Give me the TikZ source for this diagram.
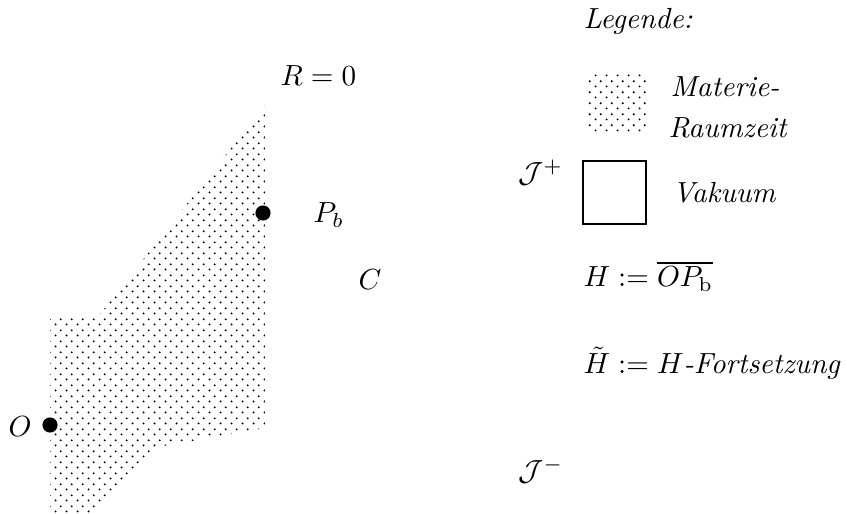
\documentclass[tikz,border=0pt]{standalone}
\usetikzlibrary{patterns}
\pgfdeclarepatternformonly{mydots}{\pgfqpoint{0pt}{0pt}}{\pgfqpoint{3.64pt}{3.64pt}}{\pgfqpoint{3.64pt}{3.64pt}}{%
  \pgfpathcircle{\pgfqpoint{0.91pt}{0.91pt}}{.38pt}%
  \pgfpathcircle{\pgfqpoint{2.73pt}{2.73pt}}{.38pt}%
  \pgfusepath{fill}}
\begin{document}
\begin{tikzpicture}[x=0.34364pt,y=-0.34364pt,
  lbl/.style={inner sep=0pt,anchor=base west},
  pt/.style={circle,fill=black,inner sep=0pt,minimum size=5.2pt},
  matter/.style={pattern=mydots}]
\useasboundingbox (0,0) rectangle (847,514);
% matter region
\fill[matter] (50,318) -- (97,318) -- (265,105) -- (265,428) -- (158,447) -- (92,514) -- (50,514) -- cycle;
% points
\node[pt] (O) at (50,425) {};
\node[pt] (Pb) at (263,213) {};
% labels
\node[lbl] (R0) at (280,86) {$R=0$};
\node[lbl] (PbL) at (313,223) {$P_b$};
\node[lbl] (C) at (358,290) {$C$};
\node[lbl] (OL) at (8,437) {$O$};
% legend
\node[lbl] (leg) at (583,29) {\textit{Legende:}};
\fill[matter] (586,75) rectangle (647,135);
\node[lbl] (mat1) at (670,97) {\textit{Materie-}};
\node[lbl] (mat2) at (668,138) {\textit{Raumzeit}};
\node[lbl] (Jp) at (518,183) {$\mathcal{J}^+$};
\node[draw,line width=0.75pt,inner sep=0pt,minimum size=21.8pt] (vac) at (614.5,192.5) {};
\node[lbl] (vak) at (672,203) {\textit{Vakuum}};
\node[lbl] (Hdef) at (583,287) {$H:=\overline{OP_\mathrm{b}}$};
\node[lbl] (Ht) at (583,374) {$\tilde H:=H$\textit{-Fortsetzung}};
\node[lbl] (Jm) at (518,481) {$\mathcal{J}^-$};
\end{tikzpicture}
\end{document}
